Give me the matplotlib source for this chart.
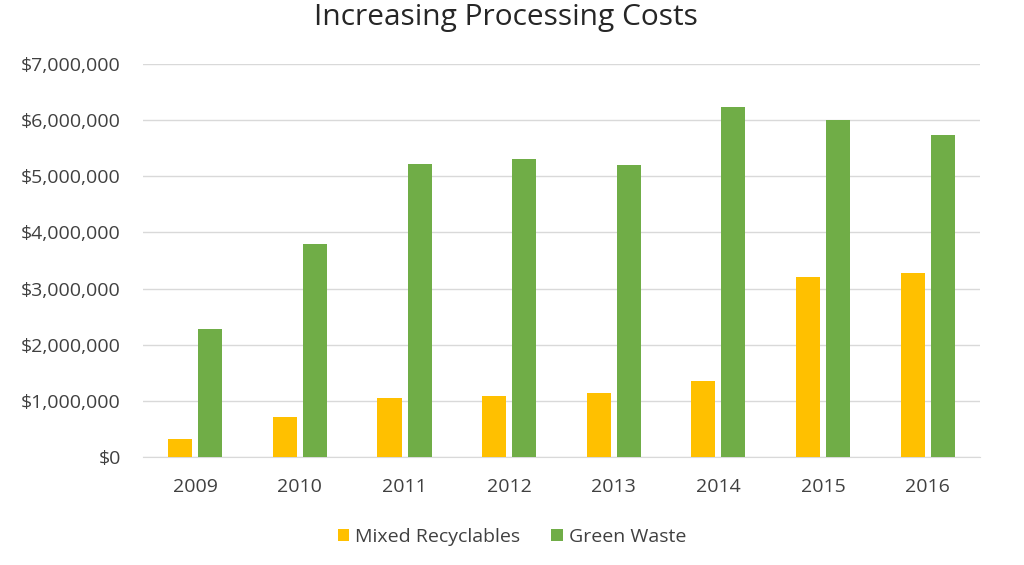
import matplotlib
matplotlib.use("Agg")
import matplotlib.pyplot as plt
import numpy as np
from matplotlib.ticker import FuncFormatter

# values (dollars)
years = ["2009", "2010", "2011", "2012", "2013", "2014", "2015", "2016"]
mixed_recyclables = [320000, 720000, 1050000, 1080000, 1140000, 1345000, 3210000, 3280000]
green_waste = [2280000, 3790000, 5210000, 5300000, 5200000, 6240000, 6000000, 5740000]

yellow = "#FFC000"
green = "#70AD47"
text_col = "#404040"

plt.rcParams["font.family"] = ["Open Sans", "DejaVu Sans"]

fig = plt.figure(figsize=(10.24, 5.65), dpi=100)
ax = fig.add_axes([0.1396, 0.1912, 0.8174, 0.6955])

x = np.arange(len(years))
w = 0.23
gap = 0.057
ax.bar(x - (w + gap) / 2, mixed_recyclables, width=w, color=yellow, label="Mixed Recyclables", zorder=3)
ax.bar(x + (w + gap) / 2, green_waste, width=w, color=green, label="Green Waste", zorder=3)

ax.set_xlim(-0.5, len(years) - 0.5)
ax.set_ylim(0, 7000000)
ax.set_yticks(np.arange(0, 7000001, 1000000))
ax.yaxis.set_major_formatter(FuncFormatter(lambda v, p: f"${v:,.0f}"))
ax.set_xticks(x)
ax.set_xticklabels(years)

ax.grid(axis="y", color="#D9D9D9", linewidth=1, zorder=0)
for s in ["top", "right", "left"]:
    ax.spines[s].set_visible(False)
ax.spines["bottom"].set_color("#D9D9D9")
ax.tick_params(axis="both", length=0, labelsize=14, colors=text_col)
ax.tick_params(axis="x", pad=15)
ax.tick_params(axis="y", pad=16)

fig.suptitle("Increasing Processing Costs", x=0.494, y=0.995, fontsize=21.5, color="#262626")

fig.legend(loc="lower center", bbox_to_anchor=(0.5, 0.003), ncol=2, frameon=False,
           fontsize=14, labelcolor=text_col, handlelength=0.6, handleheight=0.6,
           handletextpad=0.3, columnspacing=1.6)

fig.savefig("out.png", dpi=100)
